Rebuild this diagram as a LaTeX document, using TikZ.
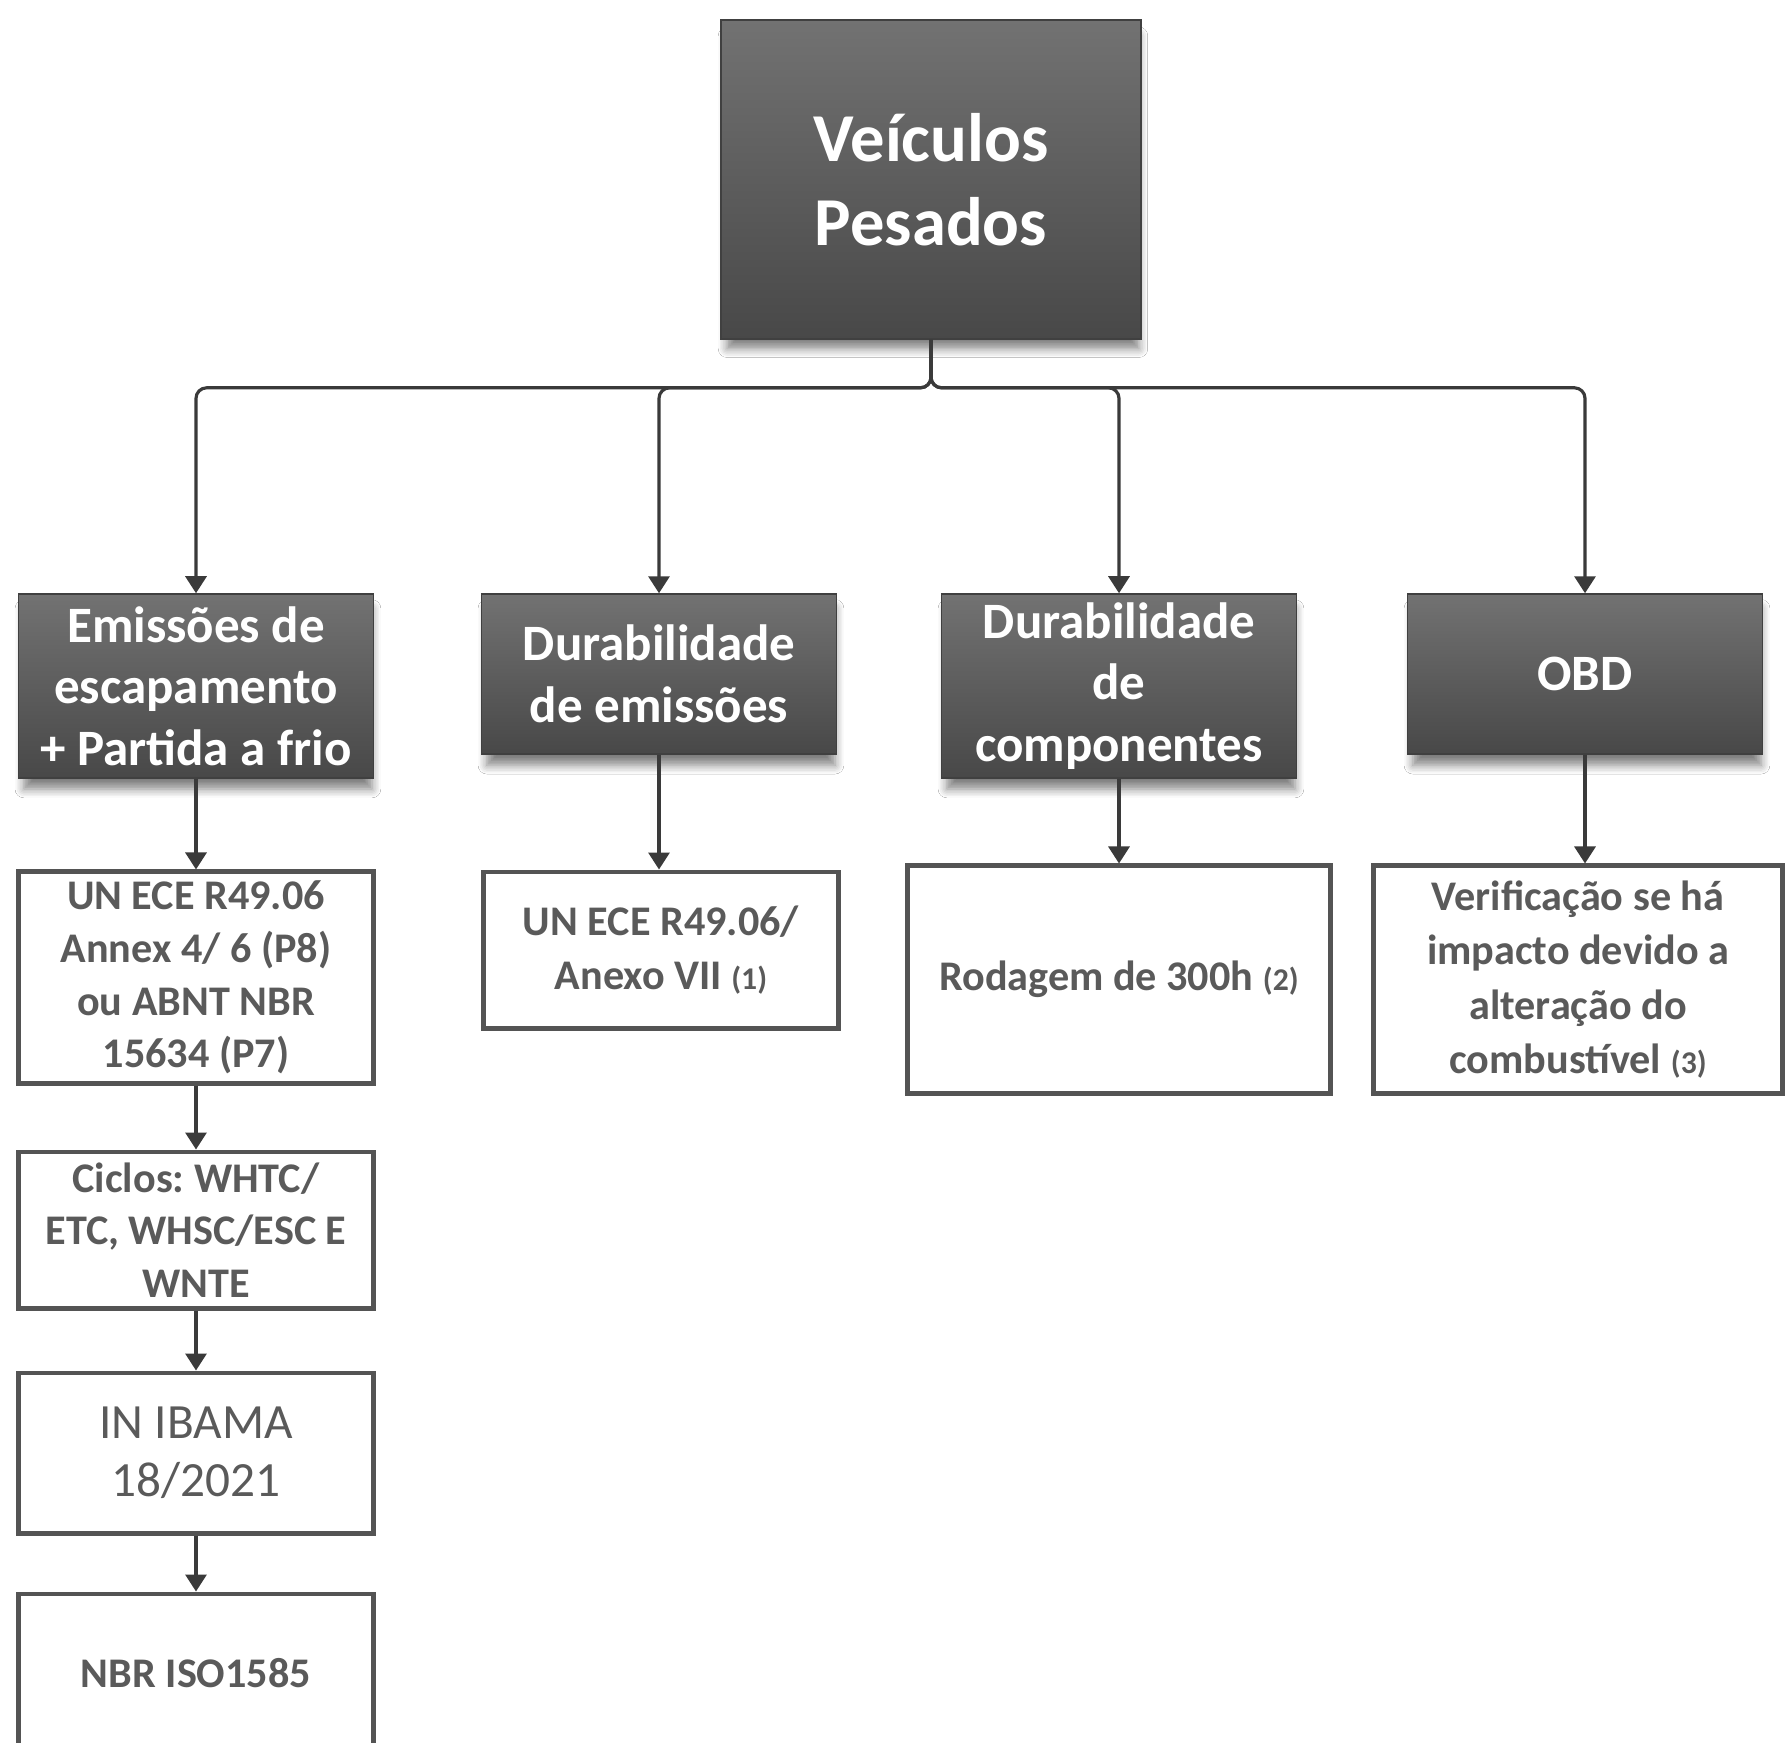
\documentclass[tikz,border=0pt]{standalone}
\usepackage{fontspec}
\setmainfont{Carlito}
\usepackage{xcolor}
\definecolor{boxtop}{RGB}{114,114,114}
\definecolor{boxbot}{RGB}{72,72,72}
\definecolor{boxline}{RGB}{64,64,64}
\definecolor{reftext}{RGB}{90,90,90}
\definecolor{refline}{RGB}{84,84,84}
\definecolor{linkgray}{RGB}{58,58,58}
\usetikzlibrary{arrows.meta,shadows.blur}
\frenchspacing

\begin{document}
\begin{tikzpicture}[x=0.01cm, y=-0.01cm,
    headbox/.style={draw=boxline, rectangle, top color=boxtop, bottom color=boxbot,
        text=white, align=center, inner sep=0pt,
        blur shadow={shadow xshift=0.2mm, shadow yshift=-1.3mm, shadow blur radius=0.9mm,
            shadow scale=0.98, shadow blur steps=6, shadow opacity=50}},
    catbox/.style={headbox, minimum width=3.55cm, font=\fontsize{14.5}{17.5}\selectfont\bfseries},
    refbox/.style={draw=refline, rectangle, line width=1.4pt, fill=white, text=reftext,
        align=center, inner sep=0pt, minimum width=3.55cm,
        font=\fontsize{12}{15}\selectfont\bfseries},
    link/.style={draw=linkgray, line width=0.9pt, rounded corners=3pt,
        -{Triangle[length=1.7mm, width=2.1mm]}}]
    \useasboundingbox[fill=white] (0,0) rectangle (1785,1742);

    % Root
    \node[headbox, minimum width=4.2cm, minimum height=3.19cm,
        font=\fontsize{19.5}{24}\selectfont\bfseries] (veic) at (931,179.5) {Veículos\\Pesados};

    % Categories
    \node[catbox, minimum height=1.84cm] (emis) at (196,686) {Emissões de\\escapamento\\+ Partida a frio};
    \node[catbox, minimum height=1.60cm] (durem) at (659,674) {Durabilidade\\de emissões};
    \node[catbox, minimum height=1.84cm] (durcomp) at (1119,686) {Durabilidade\\de\\componentes};
    \node[catbox, minimum height=1.60cm] (obd) at (1585,674) {OBD};

    % Root to categories
    \foreach \cat in {emis,durem,durcomp,obd}
        \draw[link] (veic.south) -- ++(0,48) -| (\cat.north);

    % Exhaust emissions chain
    \node[refbox, minimum height=2.11cm] (ece) at (196,977.5) {UN ECE R49.06\\Annex 4/ 6 (P8)\\ou ABNT NBR\\15634 (P7)};
    \node[refbox, minimum height=1.56cm] (ciclos) at (196,1230) {Ciclos: WHTC/\\ETC, WHSC/ESC E\\WNTE};
    \node[refbox, minimum height=1.60cm, font=\fontsize{14}{16.5}\selectfont] (ibama) at (196,1453) {IN IBAMA\\18/2021};
    \node[refbox, minimum height=1.58cm] (iso) at (196,1673) {NBR ISO1585};

    % Other references
    \node[refbox, minimum width=3.54cm, minimum height=1.56cm,
        font=\fontsize{12}{15.2}\selectfont\bfseries] (anexo) at (661,950) {UN ECE R49.06/\\Anexo VII {\fontsize{9}{11}\selectfont(1)}};
    \node[refbox, minimum width=4.22cm, minimum height=2.27cm] (rodagem) at (1119,979.5) {Rodagem de 300h {\fontsize{9}{11}\selectfont(2)}};
    \node[refbox, minimum width=4.08cm, minimum height=2.27cm,
        font=\fontsize{12}{15.5}\selectfont\bfseries] (verif) at (1578,979.5) {Verificação se há\\impacto devido a\\alteração do\\combustível {\fontsize{9}{11}\selectfont(3)}};

    % Categories to references
    \draw[link] (emis.south) -- (ece.north);
    \draw[link] (ece.south) -- (ciclos.north);
    \draw[link] (ciclos.south) -- (ibama.north);
    \draw[link] (ibama.south) -- (iso.north);
    \draw[link] (durem.south) -- (durem.south |- anexo.north);
    \draw[link] (durcomp.south) -- (rodagem.north);
    \draw[link] (obd.south) -- (obd.south |- verif.north);
\end{tikzpicture}
\end{document}
